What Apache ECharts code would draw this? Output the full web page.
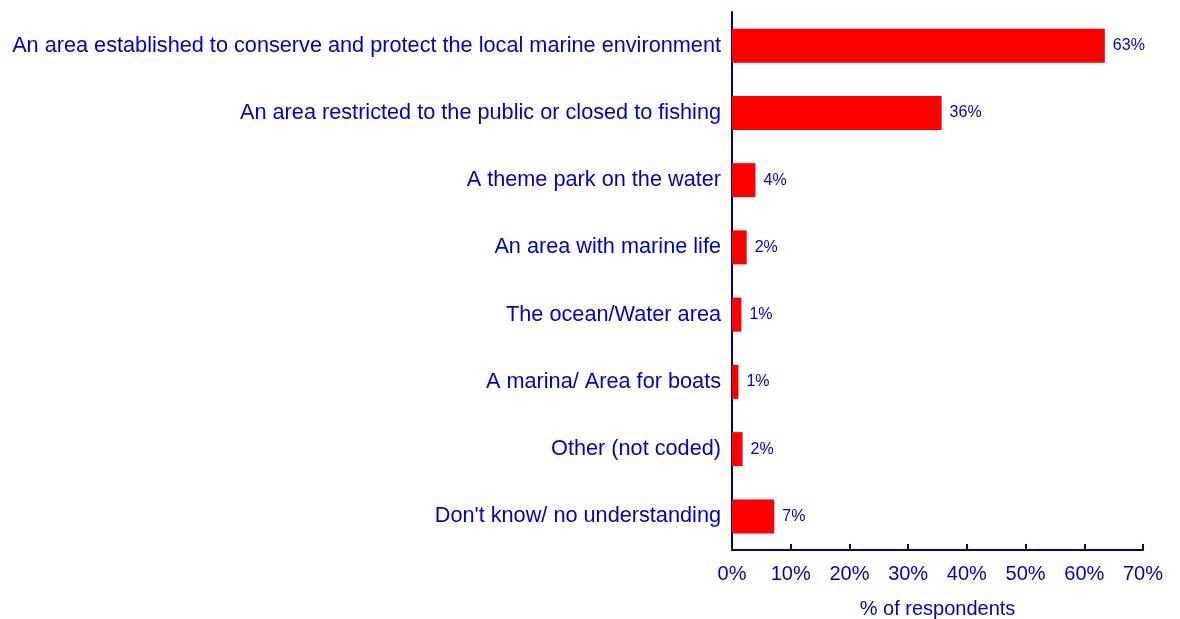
<!DOCTYPE html>
<html>
<head>
<meta charset="utf-8">
<script src="https://cdn.jsdelivr.net/npm/echarts@6/dist/echarts.min.js"></script>
<style>html,body{margin:0;padding:0;background:#fff}#c{width:1180px;height:619px}</style>
</head>
<body>
<div id="c"></div>
<script>
const categories = [
  "An area established to conserve and protect the local marine environment",
  "An area restricted to the public or closed to fishing",
  "A theme park on the water",
  "An area with marine life",
  "The ocean/Water area",
  "A marina/ Area for boats",
  "Other (not coded)",
  "Don't know/ no understanding"
];
const values = [63.5, 35.7, 4.0, 2.5, 1.6, 1.1, 1.8, 7.2];
const valueLabels = ["63%", "36%", "4%", "2%", "1%", "1%", "2%", "7%"];
const xTicks = [0, 10, 20, 30, 40, 50, 60, 70];

const chart = echarts.init(document.getElementById('c'), null, {renderer: 'canvas'});
const font = 'Liberation Sans, Arial, sans-serif';
chart.setOption({
  animation: false,
  grid: {left: 732, right: 37, top: 12, bottom: 69, containLabel: false, outerBoundsMode: 'none'},
  xAxis: {
    type: 'value', min: xTicks[0], max: xTicks[xTicks.length - 1], interval: 10,
    name: '% of respondents', nameLocation: 'middle', nameGap: 49,
    nameTextStyle: {color: '#0000cc', fontSize: 20, fontFamily: font},
    axisLine: {show: true, lineStyle: {color: '#000080', width: 2}},
    axisTick: {show: true, inside: true, length: 6, lineStyle: {color: '#000080', width: 2}},
    axisLabel: {color: '#0000cc', fontSize: 20, fontFamily: font, margin: 14, formatter: v => v + '%'},
    splitLine: {show: false}
  },
  yAxis: {
    type: 'category', data: categories, inverse: true,
    axisLine: {show: true, lineStyle: {color: '#000080', width: 2}},
    axisTick: {show: false},
    axisLabel: {color: '#0000cc', fontSize: 21.7, fontFamily: font, margin: 11}
  },
  series: [{
    type: 'bar', data: values, barWidth: 34,
    itemStyle: {color: '#ff0000'},
    label: {
      show: true, position: 'right', distance: 8,
      color: '#0000cc', fontSize: 16, fontFamily: font,
      formatter: p => valueLabels[p.dataIndex]
    }
  }]
});
</script>
</body>
</html>
